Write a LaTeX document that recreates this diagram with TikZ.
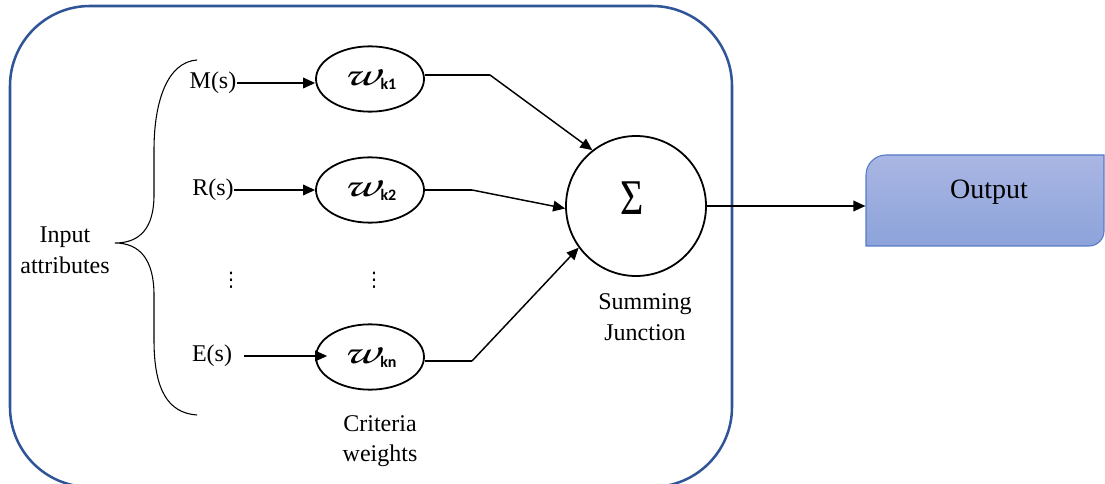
\documentclass[tikz,border=0pt]{standalone}
\usepackage{fontspec}
\setmainfont{Liberation Serif}
\newfontfamily\subfont{Carlito}
\newfontfamily\symfont{DejaVu Sans}
\usetikzlibrary{shapes.geometric,arrows.meta}

\definecolor{frameblue}{RGB}{47,85,151}
\definecolor{outtop}{RGB}{170,182,227}
\definecolor{outbot}{RGB}{140,163,218}
\definecolor{outline}{RGB}{84,122,202}

% script w followed by the bold sans index
\newcommand{\wk}[1]{\scalebox{1.45}[1]{\fontencoding{T1}\fontfamily{pzc}\fontseries{mb}\fontshape{it}\fontsize{27}{27}\selectfont w}\hspace{1pt}\raisebox{-3pt}{\subfont\bfseries\fontsize{12}{12}\selectfont k#1}}

\tikzset{
  label18/.style={font=\fontsize{18}{23}\selectfont, inner sep=0pt, align=center},
  vdotsym/.style={font=\symfont\fontsize{15}{15}\selectfont, inner sep=0pt},
  weight/.style={ellipse, draw, line width=1.35pt, minimum width=81pt, minimum height=49pt, inner sep=0pt},
  junction/.style={circle, draw, line width=1.35pt, minimum size=105pt, inner sep=0pt},
  feed/.style={line width=1.1pt, -{Triangle[length=9pt,width=8pt]}},
  thin/.style={line width=0.8pt},
}

\begin{document}
\begin{tikzpicture}[x=0.75pt, y=-0.75pt]
\clip (0,0) rectangle (1105,484);

% outer frame
\draw[frameblue, line width=1.9pt, rounded corners=60pt] (10,6) rectangle (732,487);

% output box: top-left and bottom-right corners rounded
\shade[top color=outtop, bottom color=outbot, draw=outline, line width=0.8pt]
  (866,246) -- (866,175) .. controls (866,164) and (875,155) .. (886,155)
  -- (1104,155) -- (1104,231) .. controls (1104,239.3) and (1097.3,246) .. (1089,246)
  -- cycle;
\node (out) [inner sep=0pt, minimum width=179pt, minimum height=68pt] at (985,200.5) {};
\node (outlbl) [font=\fontsize{21}{21}\selectfont] at (989,192) {Output};

% inputs
\node (ms) [label18] at (213,83) {M(s)};
\node (rs) [label18] at (213,190) {R(s)};
\node (es) [label18] at (212,356) {E(s)};
\node (d1) [vdotsym] at (231,280) {⋮};

% weights
\node (w1) [weight] at (370,79) {\wk{1}};
\node (w2) [weight] at (370,190) {\wk{2}};
\node (wn) [weight] at (370,357) {\wk{n}};
\node (d2) [vdotsym] at (374,280) {⋮};

% summing junction
\node (s) [junction] at (636,206) {};
\node (sig) at (632,198) {\scalebox{1}[1.25]{\fontsize{30}{30}\selectfont Σ}};

% labels
\node (inp) [label18] at (65,250) {Input\\attributes};
\node (sj) [label18] at (645,317) {Summing\\Junction};
\node (cw) [label18] at (380,441) {Criteria\\weights};

% brace around the inputs
\draw[thin] (197,60) .. controls (168,62) and (154,100) .. (154,150)
  -- (154,195) .. controls (154,228) and (140,243) .. (115,243)
  .. controls (140,243) and (154,260) .. (154,295)
  -- (154,340) .. controls (154,390) and (168,413) .. (197,415);

% input arrows
\draw[feed] (ms.east) -- (ms.east -| w1.west);
\draw[feed] (rs.east) -- (rs.east -| w2.west);
\draw[feed] ([xshift=9pt]es.east) -- ([xshift=9pt]es.east -| wn.west);

% weights to junction
\coordinate (k1) at (490,75);
\coordinate (k2) at (472,190);
\coordinate (kn) at (472,361);
\draw[thin] (w1.east |- k1) -- (k1);
\draw[feed] (k1) -- (s.128);
\draw[thin] (w2.east) -- (k2);
\draw[feed] (k2) -- (s.182);
\draw[thin] (wn.east |- kn) -- (kn);
\draw[feed] (kn) -- (s.216);

% junction to output
\draw[feed] (s.east) -- (s.east -| out.west);
\end{tikzpicture}
\end{document}
